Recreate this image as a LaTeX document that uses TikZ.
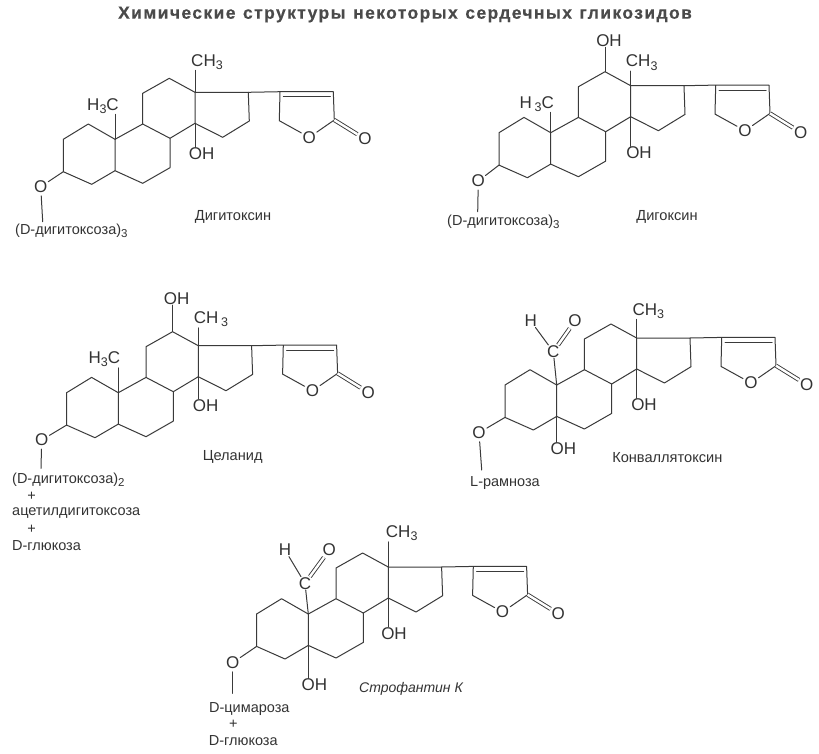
\documentclass[tikz,border=0pt]{standalone}
\usepackage{fontspec}
\setmainfont{Liberation Sans}
\newfontfamily\titlefont[LetterSpace=8,WordSpace=1.2,BoldFeatures={FakeBold=0.4}]{Liberation Sans}
\definecolor{ink}{HTML}{333333}
\definecolor{titleink}{HTML}{4A4A4A}
\definecolor{lineink}{HTML}{3A3A3A}
\newcommand{\sbs}[1]{\raisebox{-3.5pt}{\fontsize{12.5}{12.5}\selectfont #1}}
\newcommand{\sbt}[1]{\raisebox{-3pt}{\fontsize{11.5}{11.5}\selectfont #1}}
\newcommand{\skeleton}[3]{%
 \begin{scope}[shift={(#2,#3)}]
  \coordinate (#1C1) at (-26.7,-15.3);
  \coordinate (#1C2) at (-51.7,0);
  \coordinate (#1C3) at (-51.7,32.4);
  \coordinate (#1C4) at (-23.3,45);
  \coordinate (#1C5) at (0,31.4);
  \coordinate (#1C6) at (27.7,44);
  \coordinate (#1C7) at (55,28.4);
  \coordinate (#1C8) at (55,-1);
  \coordinate (#1C9) at (27.7,-15.3);
  \coordinate (#1C10) at (0,0);
  \coordinate (#1C11) at (27.7,-46);
  \coordinate (#1C12) at (54.3,-61);
  \coordinate (#1C13) at (80,-47);
  \coordinate (#1C14) at (80,-16);
  \coordinate (#1C15) at (107.7,-2);
  \coordinate (#1C16) at (134.3,-18.3);
  \coordinate (#1C17) at (133.3,-47);
  \coordinate (#1L1) at (165,-47.6);
  \coordinate (#1L2) at (218.3,-47.6);
  \coordinate (#1L3) at (219.3,-19.3);
  \coordinate (#1L5) at (164.3,-18.6);
  \coordinate (#1Da) at (168.3,-42.6);
  \coordinate (#1Db) at (215.3,-42.6);
  \node[oatom] (#1LO) at (194.3,-2) {O};
  \node[oatom] (#1EO) at (250,-0.3) {O};
  \draw[bond] (#1C3)--(#1C2)--(#1C1)--(#1C10)--(#1C5)--(#1C4)--cycle;
  \draw[bond] (#1C5)--(#1C6)--(#1C7)--(#1C8)--(#1C9)--(#1C10);
  \draw[bond] (#1C9)--(#1C11)--(#1C12)--(#1C13)--(#1C14)--(#1C8);
  \draw[bond] (#1C13)--(#1C17)--(#1C16)--(#1C15)--(#1C14);
  \draw[bond] (#1C17)--(#1L1)--(#1L2)--(#1L3)--(#1LO)--(#1L5)--(#1L1);
  \draw[bond] (#1Da)--(#1Db);
  \draw[dbond] (#1L3)--(#1EO);
 \end{scope}}
\tikzset{
 x=1pt,y=-1pt,
 bond/.style={draw=lineink,line width=1pt,line join=round,line cap=round},
 dbond/.style={draw=lineink,line width=0.9pt,double=white,double distance=2.4pt},
 atom/.style={font=\fontsize{17}{19}\selectfont,text=ink,inner sep=0.5pt},
 sugar/.style={font=\fontsize{14.5}{16}\selectfont,text=ink,inner sep=0pt,anchor=west},
 sugarc/.style={font=\fontsize{14.5}{16}\selectfont,text=ink,inner sep=0pt},
 caption/.style={font=\fontsize{14.6}{16}\selectfont,text=ink,inner sep=0pt},
 oatom/.style={atom,circle,inner sep=0pt},
 heading/.style={font=\titlefont\bfseries\fontsize{17.5}{19}\selectfont,text=titleink,inner sep=0pt}
}
\begin{document}
\begin{tikzpicture}
\path[use as bounding box,fill=white] (0,0) rectangle (819,753);
\node[heading] (title) at (405,14.5) {Химические структуры некоторых сердечных гликозидов};

% Digitoxin
\skeleton{a}{115}{139.3}
\node[atom] (aMe) at (207,62) {CH\sbs{3}};
\node[atom] (aMf) at (103,106) {H\sbs{3}C};
\node[atom] (aOH) at (201.7,154) {OH};
\node[oatom] (aO) at (40.7,186.7) {O};
\coordinate (aT) at (42.7,221.7);
\draw[bond] (aC13)--(aC13 |- aMe.south);
\draw[bond] (aC10)--(aC10 |- aMf.south);
\draw[bond] (aC14)--(aC14 |- aOH.north);
\draw[bond] (aC3)--(aO);
\draw[bond] (aO)--(aT);
\node[sugar] (aS) at (15,231) {(D-дигитоксоза)\sbt{3}};
\node[caption] (aN) at (233,217) {Дигитоксин};

% Digoxin
\skeleton{b}{550.7}{132.7}
\node[atom] (bMe) at (641.7,62.7) {CH\sbs{3}};
\node[atom] (bMf) at (536.7,104) {H\,\sbs{3}C};
\node[atom] (bOH) at (639,153) {OH};
\node[atom] (bOT) at (609,40.7) {OH};
\node[oatom] (bO) at (478.3,181) {O};
\coordinate (bT) at (477.7,211.7);
\draw[bond] (bC13)--(bC13 |- bMe.south);
\draw[bond] (bC10)--(bC10 |- bMf.south);
\draw[bond] (bC14)--(bC14 |- bOH.north);
\draw[bond] (bC12)--(bC12 |- bOT.south);
\draw[bond] (bC3)--(bO);
\draw[bond] (bO)--(bT);
\node[sugar] (bS) at (447,222) {(D-дигитоксоза)\sbt{3}};
\node[caption] (bN) at (667,217) {Дигоксин};

% Celanid
\skeleton{c}{118.3}{392.7}
\node[atom] (cMe) at (211,319.3) {CH\,\sbs{3}};
\node[atom] (cMf) at (104.3,359.3) {H\sbs{3}C};
\node[atom] (cOH) at (205.7,405.7) {OH};
\node[atom] (cOT) at (176.7,298.3) {OH};
\node[oatom] (cO) at (41.7,440) {O};
\coordinate (cT) at (41,468.3);
\draw[bond] (cC13)--(cC13 |- cMe.south);
\draw[bond] (cC10)--(cC10 |- cMf.south);
\draw[bond] (cC14)--(cC14 |- cOH.north);
\draw[bond] (cC12)--(cC12 |- cOT.south);
\draw[bond] (cC3)--(cO);
\draw[bond] (cO)--(cT);
\node[sugar] (cS1) at (12,480) {(D-дигитоксоза)\sbt{2}};
\node[sugarc] (cP1) at (31.7,496.7) {+};
\node[sugar] (cS2) at (12,513) {ацетилдигитоксоза};
\node[sugarc] (cP2) at (31.7,529.3) {+};
\node[sugar] (cS3) at (12,545.7) {D-глюкоза};
\node[caption] (cN) at (232.7,457.3) {Целанид};

% Convallatoxin
\skeleton{d}{556.7}{385}
\node[atom] (dMe) at (648.3,311) {CH\sbs{3}};
\node[atom] (dOH) at (644,405) {OH};
\node[atom] (dOV) at (563.3,449) {OH};
\node[oatom] (dO) at (479,432.7) {O};
\coordinate (dT) at (481.7,470);
\node[atom] (dCc) at (553.3,351.7) {C};
\node[atom] (dH) at (530.7,321) {H};
\node[oatom] (dOc) at (575,321) {O};
\draw[bond] (dC13)--(dC13 |- dMe.south);
\draw[bond] (dC14)--(dC14 |- dOH.north);
\draw[bond] (dC5)--(dC5 |- dOV.north);
\draw[bond] (dC10)--(dCc);
\draw[bond] (dH)--(dCc);
\draw[dbond] (dCc)--(dOc);
\draw[bond] (dC3)--(dO);
\draw[bond] (dO)--(dT);
\node[sugarc] (dS) at (505,482.7) {L-рамноза};
\node[caption] (dN) at (667.3,457.7) {Конваллятоксин};

% Strophanthin K
\skeleton{e}{308.3}{614}
\node[atom] (eMe) at (401.7,533.3) {CH\sbs{3}};
\node[atom] (eOH) at (394,633.3) {OH};
\node[atom] (eOV) at (314.3,685) {OH};
\node[oatom] (eO) at (232.7,662.7) {O};
\coordinate (eT) at (232.7,693.3);
\node[atom] (eCc) at (305,583.3) {C};
\node[atom] (eH) at (285,550) {H};
\node[oatom] (eOc) at (329.3,550) {O};
\draw[bond] (eC13)--(eC13 |- eMe.south);
\draw[bond] (eC14)--(eC14 |- eOH.north);
\draw[bond] (eC5)--(eC5 |- eOV.north);
\draw[bond] (eC10)--(eCc);
\draw[bond] (eH)--(eCc);
\draw[dbond] (eCc)--(eOc);
\draw[bond] (eC3)--(eO);
\draw[bond] (eO)--(eT);
\node[sugarc] (eS1) at (249.3,709.3) {D-цимароза};
\node[sugarc] (eP) at (233.3,724.3) {+};
\node[sugarc] (eS2) at (243.3,741) {D-глюкоза};
\node[caption,font=\itshape\fontsize{14}{15}\selectfont] (eN) at (411,689.3) {Строфантин К};
\end{tikzpicture}
\end{document}
